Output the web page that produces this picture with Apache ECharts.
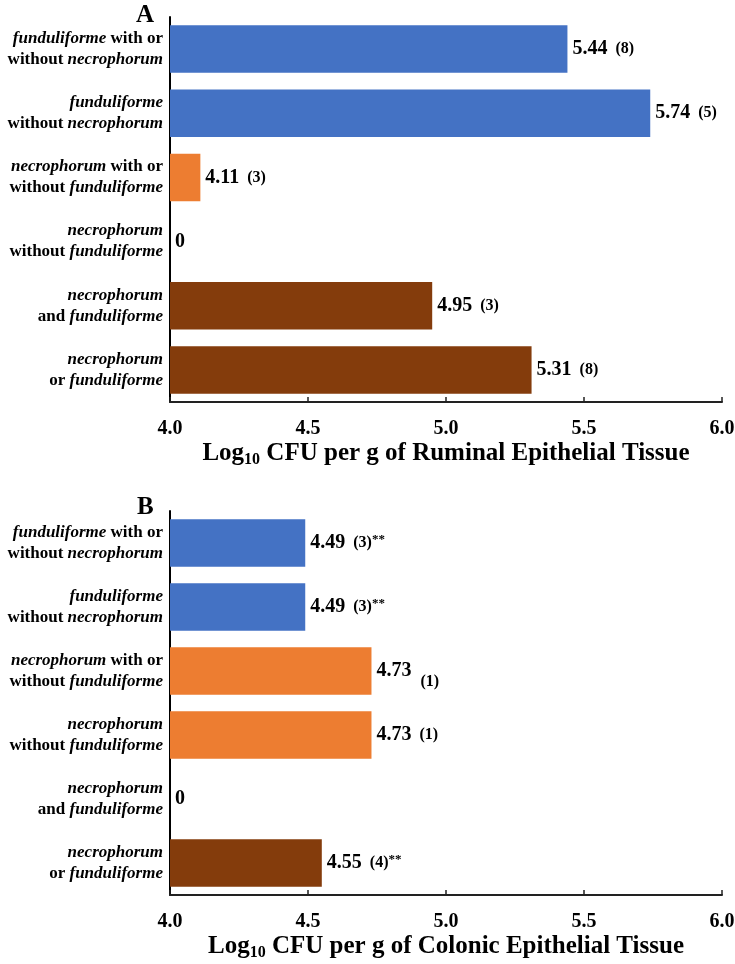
<!DOCTYPE html>
<html>
<head>
<meta charset="utf-8">
<script src="https://cdn.jsdelivr.net/npm/echarts@6/dist/echarts.min.js"></script>
<style>
  html, body { margin: 0; padding: 0; background: #fff; }
  #chart { width: 735px; height: 964px; }
</style>
</head>
<body>
<div id="chart"></div>
<script>
// category labels (same order in both panels), {i|..} = italic words
const categories = [
  "{i|funduliforme} with or\nwithout {i|necrophorum}",
  "{i|funduliforme}\nwithout {i|necrophorum}",
  "{i|necrophorum} with or\nwithout {i|funduliforme}",
  "{i|necrophorum}\nwithout {i|funduliforme}",
  "{i|necrophorum}\nand {i|funduliforme}",
  "{i|necrophorum}\nor {i|funduliforme}"
];
const barColors = ["#4472C4", "#4472C4", "#ED7D31", "#ED7D31", "#843C0C", "#843C0C"];

// panel A - ruminal
const ruminalValues = [5.44, 5.74, 4.11, 0, 4.95, 5.31];
const ruminalCounts = ["(8)", "(5)", "(3)", "", "(3)", "(8)"];
const ruminalMarks = ["", "", "", "", "", ""];

// panel B - colonic
const colonicValues = [4.49, 4.49, 4.73, 4.73, 0, 4.55];
const colonicCounts = ["(3)", "(3)", "(1)", "(1)", "", "(4)"];
const colonicMarks = ["**", "**", "", "", "", "**"];

const xTicks = ["4.0", "4.5", "5.0", "5.5", "6.0"];
const AXIS_MIN = 4, AXIS_MAX = 6, AXIS_STEP = 0.5;

const FONT = "Liberation Serif";

var chart = echarts.init(document.getElementById("chart"));

function makeData(values, counts, marks, lowered) {
  return values.map(function (v, i) {
    var txt = v > 0
      ? "{v|" + v.toFixed(2) + "}" + (counts[i] ? "{" + (lowered === i ? "nl" : "n") + "|" + counts[i] + "}" : "") + (marks[i] ? "{s|" + marks[i] + "}" : "")
      : "{v|0}";
    return {
      value: v > 0 ? v : AXIS_MIN, // zero sits on the axis start
      itemStyle: { color: barColors[i] },
      label: { formatter: txt }
    };
  });
}

function xAxisOf(gridIndex, title) {
  return {
    type: "value",
    gridIndex: gridIndex,
    min: AXIS_MIN,
    max: AXIS_MAX,
    interval: AXIS_STEP,
    splitLine: { show: false },
    axisLine: { show: true, lineStyle: { color: "#222", width: 2 } },
    axisTick: { show: true, inside: true, length: 5, lineStyle: { color: "#222", width: 1.5 } },
    axisLabel: {
      margin: 17,
      color: "#000",
      fontFamily: FONT,
      fontWeight: "bold",
      fontSize: 20,
      formatter: function (val) {
        var k = Math.round((val - AXIS_MIN) / AXIS_STEP);
        return xTicks[k] || val.toFixed(1);
      }
    },
    name: "{t|Log}{sub|10}{t| CFU per g of " + title + " Epithelial Tissue}",
    nameLocation: "middle",
    nameGap: 38,
    nameTextStyle: {
      rich: {
        t: { fontFamily: FONT, fontWeight: "bold", fontSize: 25, color: "#000" },
        sub: { fontFamily: FONT, fontWeight: "bold", fontSize: 16, color: "#000", padding: [12, 0, 0, 0] }
      }
    }
  };
}

function yAxisOf(gridIndex) {
  return {
    type: "category",
    gridIndex: gridIndex,
    inverse: true,
    data: categories,
    axisLine: { show: true, lineStyle: { color: "#000", width: 2 } },
    axisTick: { show: false },
    axisLabel: {
      margin: 7,
      align: "right",
      color: "#000",
      fontFamily: FONT,
      fontWeight: "bold",
      fontSize: 17,
      lineHeight: 21,
      rich: {
        i: { fontFamily: FONT, fontWeight: "bold", fontStyle: "italic", fontSize: 17, lineHeight: 21, color: "#000" }
      }
    }
  };
}

var labelRich = {
  v: { fontFamily: FONT, fontWeight: "bold", fontSize: 20, color: "#000" },
  n: { fontFamily: FONT, fontWeight: "bold", fontSize: 16, color: "#000", padding: [0, 0, 0, 8] },
  nl: { fontFamily: FONT, fontWeight: "bold", fontSize: 16, color: "#000", padding: [22, 0, 0, 9] },
  s: { fontFamily: FONT, fontWeight: "bold", fontSize: 13, color: "#000", padding: [0, 0, 6, 0] }
};

function seriesOf(idx, values, counts, marks, lowered) {
  return {
    type: "bar",
    xAxisIndex: idx,
    yAxisIndex: idx,
    barCategoryGap: "26%",
    data: makeData(values, counts, marks, lowered),
    label: {
      show: true,
      position: "right",
      distance: 5,
      rich: labelRich
    },
    silent: true
  };
}

var option = {
  backgroundColor: "#fff",
  animation: false,
  title: [
    { text: "A", left: 131, top: -2, textStyle: { fontFamily: FONT, fontWeight: "bold", fontSize: 25, color: "#000" } },
    { text: "B", left: 132, top: 490, textStyle: { fontFamily: FONT, fontWeight: "bold", fontSize: 25, color: "#000" } }
  ],
  grid: [
    { left: 170, top: 17, width: 552, height: 385, outerBoundsMode: "none", containLabel: false },
    { left: 170, top: 511, width: 552, height: 384, outerBoundsMode: "none", containLabel: false }
  ],
  xAxis: [xAxisOf(0, "Ruminal"), xAxisOf(1, "Colonic")],
  yAxis: [yAxisOf(0), yAxisOf(1)],
  series: [
    seriesOf(0, ruminalValues, ruminalCounts, ruminalMarks, -1),
    seriesOf(1, colonicValues, colonicCounts, colonicMarks, 2)
  ]
};

chart.setOption(option);
</script>
</body>
</html>
